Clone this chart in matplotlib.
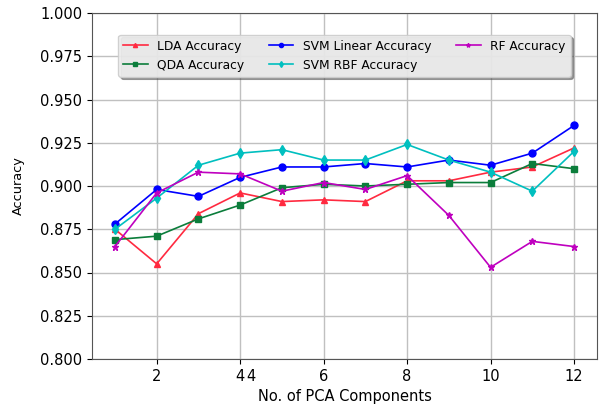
import numpy as np
import matplotlib
matplotlib.use("Agg")
import matplotlib.pyplot as plt

# Número de componentes PCA
componentes = [1, 2, 3, 4, 5, 6, 7, 8, 9, 10, 11, 12]

lda_acc = [0.875, 0.855, 0.884, 0.896, 0.891, 0.892, 0.891, 0.903, 0.903, 0.908, 0.911, 0.922]
qda_acc = [0.869, 0.871, 0.881, 0.889, 0.899, 0.901, 0.900, 0.901, 0.902, 0.902, 0.913, 0.910]
svm_lin_acc = [0.878, 0.898, 0.894, 0.905, 0.911, 0.911, 0.913, 0.911, 0.915, 0.912, 0.919, 0.935]
svm_rbf_acc = [0.875, 0.893, 0.912, 0.919, 0.921, 0.915, 0.915, 0.924, 0.915, 0.908, 0.897, 0.920]
rf_acc = [0.865, 0.896, 0.908, 0.907, 0.897, 0.902, 0.898, 0.906, 0.883, 0.853, 0.868, 0.865]

x_ticks = [2, 4, 6, 8, 10, 12]
y_ticks = [0.800, 0.825, 0.850, 0.875, 0.900, 0.925, 0.950, 0.975, 1.000]


def main():
    fig = plt.figure(figsize=(5.99, 4.13), dpi=100)
    ax = fig.add_axes([92 / 599, 1 - 359 / 413, (597 - 92) / 599, (359 - 13) / 413])

    ax.plot(componentes, lda_acc, color="#ff2a40", marker="^", markersize=5, linewidth=1.2, label="LDA Accuracy")
    ax.plot(componentes, qda_acc, color="#0b7d3b", marker="s", markersize=5, linewidth=1.2, label="QDA Accuracy")
    ax.plot(componentes, svm_lin_acc, color="blue", marker="o", markersize=5, linewidth=1.2, label="SVM Linear Accuracy")
    ax.plot(componentes, svm_rbf_acc, color="c", marker="d", markersize=5, linewidth=1.2, label="SVM RBF Accuracy")
    ax.plot(componentes, rf_acc, color="m", marker="*", markersize=5, linewidth=1.2, label="RF Accuracy")

    ax.set_ylim(0.8, 1.0)
    ax.set_xlim(0.45, 12.55)
    ax.set_yticks(y_ticks)
    ax.set_yticklabels([f"{v:.3f}" for v in y_ticks], fontsize=10.5)
    ax.set_xticks(x_ticks)
    ax.set_xticklabels([str(v) for v in x_ticks], fontsize=10.5)
    # segunda etiqueta "4" que aparece en el original
    ax.set_xticks([4.27], minor=True)
    ax.set_xticklabels(["4"], minor=True, fontsize=10.5)
    ax.tick_params(which="minor", length=3.5, color=(0, 0, 0, 0))

    ax.grid(True, color="#c0c0c0", linewidth=1)
    ax.set_axisbelow(True)
    for s in ax.spines.values():
        s.set_color("#555555")

    ax.set_xlabel("No. of PCA Components", fontsize=10.5)
    ax.set_ylabel("Accuracy", fontsize=9.3, labelpad=11)

    leg = ax.legend(ncol=3, loc="upper center", bbox_to_anchor=(0.5, 0.955), fontsize=8.8,
                    shadow=True, fancybox=True, facecolor="#f0f0f0", framealpha=0.9,
                    markerscale=0.6)

    fig.savefig("out.png", dpi=100)


if __name__ == "__main__":
    main()
